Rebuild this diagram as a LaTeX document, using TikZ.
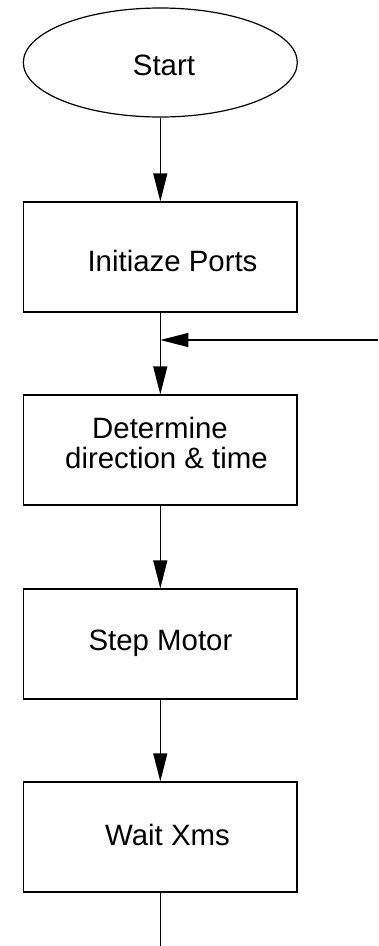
\documentclass[tikz,border=0pt]{standalone}
\usepackage{fontspec}
\setmainfont{Liberation Sans}
\usetikzlibrary{arrows.meta,shapes.geometric}
\begin{document}
\begin{tikzpicture}[x=1pt,y=-1pt,
  line width=1.2pt,
  stepbox/.style={draw,rectangle,minimum width=273.5pt,minimum height=110pt,inner sep=0pt},
  oval/.style={draw,ellipse,minimum width=274pt,minimum height=109pt,inner sep=0pt},
  txt/.style={anchor=base,inner sep=0pt,font=\fontsize{29.4}{31}\selectfont},
  arr/.style={-{Triangle[length=28pt,width=14pt]}}
]
\useasboundingbox (0,0) rectangle (378,946);

% shapes
\node[oval] (start) at (160.3,62.5) {};
\node[stepbox] (init) at (160.3,257) {};
\node[stepbox] (det) at (160.3,450) {};
\node[stepbox] (motor) at (160.3,644) {};
\node[stepbox] (wait) at (160.3,837) {};

% texts
\node[txt] (tstart) at (164,75) {Start};
\node[txt] (tinit) at (172.5,271) {Initiaze Ports};
\node[txt] (tdet1) at (160,438) {Determine};
\node[txt] (tdet2) at (166.5,468) {direction \& time};
\node[txt] (tmotor) at (160.5,650) {Step Motor};
\node[txt] (twait) at (167.5,845) {Wait Xms};

% connectors
\coordinate (loopin) at (378,340);
\coordinate (join) at (160.3,340);
\coordinate (out) at (160.3,946);
\draw[arr] (start.south) -- (init.north);
\draw[arr] (init.south) -- (det.north);
\draw[arr] (loopin) -- (join);
\draw[arr] (det.south) -- (motor.north);
\draw[arr] (motor.south) -- (wait.north);
\draw (wait.south) -- (out);
\end{tikzpicture}
\end{document}
